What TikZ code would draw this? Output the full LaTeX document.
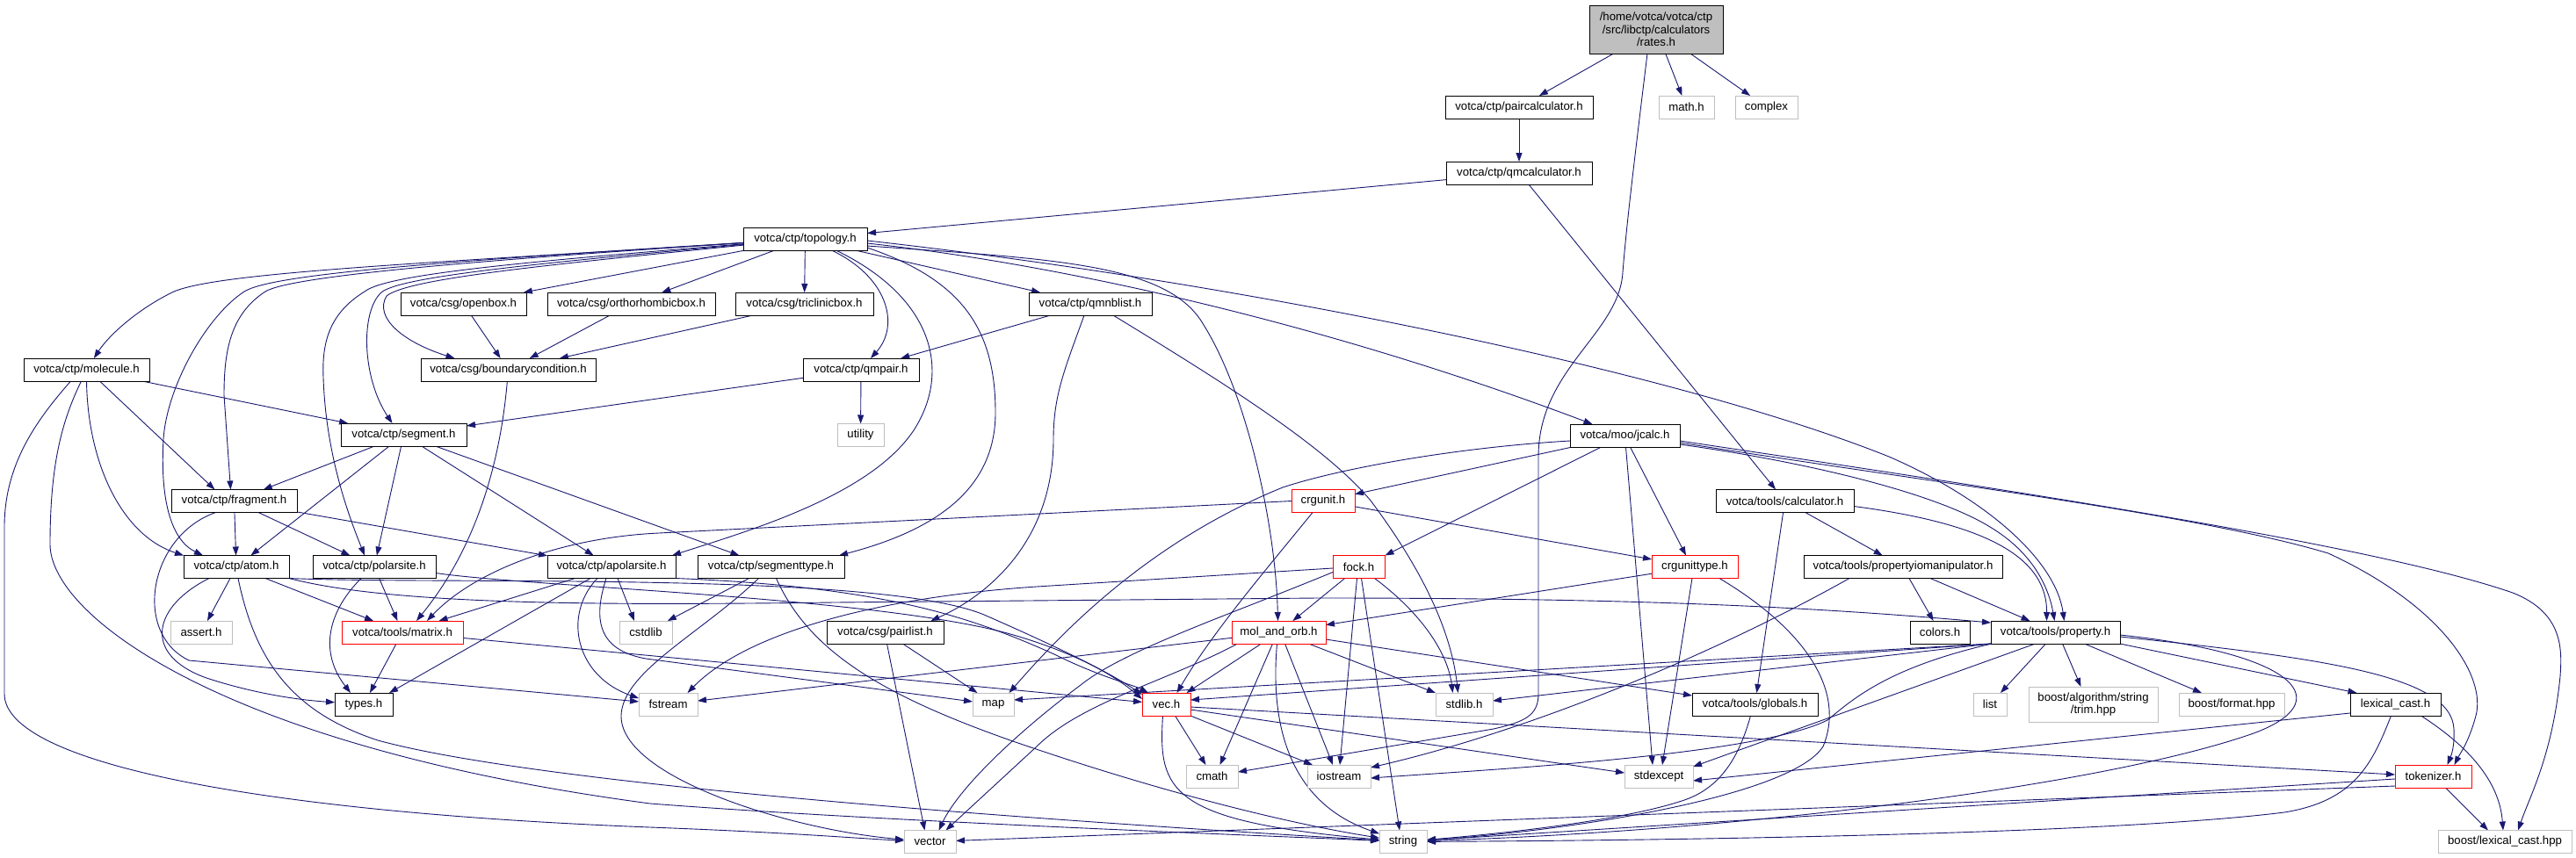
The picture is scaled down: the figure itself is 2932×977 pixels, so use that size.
\documentclass[tikz,border=0pt]{standalone}
\usepackage{fontspec}
\setmainfont{Liberation Sans}
\usetikzlibrary{arrows.meta}
\definecolor{edgec}{HTML}{191970}
\definecolor{extc}{HTML}{BFBFBF}
\pgfdeclarelayer{bglayer}
\pgfdeclarelayer{edgelayer}
\pgfsetlayers{bglayer,edgelayer,main}
\newcommand{\fsz}{\fontsize{13.2}{14.5}\selectfont}
\begin{document}
\begin{tikzpicture}[x=1pt,y=-1pt,
  box/.style={rectangle, inner sep=0pt, outer sep=0pt, line width=1pt, align=center, font=\fsz, minimum height=26pt, fill=white},
  nb/.style={box, draw=black},
  nx/.style={box, draw=extc},
  nr/.style={box, draw=red},
  edg/.style={draw=edgec, line width=0.9pt, -{Triangle[length=10pt,width=7pt]}}]
\useasboundingbox (0,0) rectangle (2932,977);
\begin{pgfonlayer}{bglayer}
\fill[white] (0,0) rectangle (2932,977);
\end{pgfonlayer}

% ---------- nodes ----------
\node[nb, fill=extc, minimum width=152, minimum height=55] (R) at (1885,33.5) {/home/votca/votca/ctp\\/src/libctp/calculators\\/rates.h};
\node[nb, minimum width=168] (PC) at (1729,122) {votca/ctp/paircalculator.h};
\node[nx, minimum width=63] (MH) at (1919.5,122) {math.h};
\node[nx, minimum width=71] (CX) at (2010.5,122) {complex};
\node[nb, minimum width=166] (QC) at (1729,197) {votca/ctp/qmcalculator.h};
\node[nb, minimum width=141] (TOP) at (916.5,272) {votca/ctp/topology.h};
\node[nb, minimum width=143] (OB) at (527.5,346) {votca/csg/openbox.h};
\node[nb, minimum width=191] (ORB) at (718.5,346) {votca/csg/orthorhombicbox.h};
\node[nb, minimum width=157] (TRI) at (915.5,346) {votca/csg/triclinicbox.h};
\node[nb, minimum width=140] (QNB) at (1241,346) {votca/ctp/qmnblist.h};
\node[nb, minimum width=143] (MOL) at (98.5,421) {votca/ctp/molecule.h};
\node[nb, minimum width=199] (BC) at (578.5,421) {votca/csg/boundarycondition.h};
\node[nb, minimum width=132] (QP) at (980,421) {votca/ctp/qmpair.h};
\node[nb, minimum width=143] (SEG) at (459.5,495) {votca/ctp/segment.h};
\node[nx, minimum width=53] (UT) at (979.5,495.5) {utility};
\node[nb, minimum width=125] (JC) at (1849.5,496) {votca/moo/jcalc.h};
\node[nb, minimum width=143] (FR) at (266.5,570.5) {votca/ctp/fragment.h};
\node[nr, minimum width=72] (CU) at (1506,570.5) {crgunit.h};
\node[nb, minimum width=157] (CALC) at (2031.5,570.5) {votca/tools/calculator.h};
\node[nb, minimum width=120] (AT) at (269,645.5) {votca/ctp/atom.h};
\node[nb, minimum width=140] (PS) at (426,645.5) {votca/ctp/polarsite.h};
\node[nb, minimum width=146] (APS) at (696,645.5) {votca/ctp/apolarsite.h};
\node[nb, minimum width=167] (ST) at (877.5,645.5) {votca/ctp/segmenttype.h};
\node[nr, minimum width=59] (FO) at (1546.5,645.5) {fock.h};
\node[nr, minimum width=98] (CUT) at (1929,645.5) {crgunittype.h};
\node[nb, minimum width=226] (PIO) at (2166,645.5) {votca/tools/propertyiomanipulator.h};
\node[nx, minimum width=70] (AS) at (229,720) {assert.h};
\node[nr, minimum width=138] (MX) at (458,720) {votca/tools/matrix.h};
\node[nx, minimum width=60] (CSL) at (735,720) {cstdlib};
\node[nb, minimum width=133] (PL) at (1007.5,720) {votca/csg/pairlist.h};
\node[nr, minimum width=107] (MO) at (1455.5,720) {mol\_and\_orb.h};
\node[nb, minimum width=68] (COL) at (2208,720) {colors.h};
\node[nb, minimum width=147] (PROP) at (2339.5,720) {votca/tools/property.h};
\node[nb, minimum width=66] (TY) at (414,802) {types.h};
\node[nx, minimum width=67] (FS) at (760.5,802) {fstream};
\node[nx, minimum width=47] (MAP) at (1130.5,802) {map};
\node[nr, minimum width=55] (VEC) at (1327.5,802) {vec.h};
\node[nx, minimum width=65] (SLH) at (1666.5,802) {stdlib.h};
\node[nb, minimum width=143] (GL) at (1997.5,802) {votca/tools/globals.h};
\node[nx, minimum width=38] (LI) at (2265,802) {list};
\node[nx, minimum width=147, minimum height=40] (TRIM) at (2382.5,802) {boost/algorithm/string\\/trim.hpp};
\node[nx, minimum width=120] (BF) at (2540,802) {boost/format.hpp};
\node[nb, minimum width=103] (LC) at (2726.5,802) {lexical\_cast.h};
\node[nx, minimum width=59] (CM) at (1379.5,884) {cmath};
\node[nx, minimum width=72] (IO) at (1524,884) {iostream};
\node[nx, minimum width=78] (SE) at (1888,884) {stdexcept};
\node[nr, minimum width=87] (TOK) at (2769.5,884) {tokenizer.h};
\node[nx, minimum width=59] (VE) at (1058.5,958.5) {vector};
\node[nx, minimum width=54] (STR) at (1597,958.5) {string};
\node[nx, minimum width=152] (BLC) at (2851,958.5) {boost/lexical\_cast.hpp};

% ---------- edges ----------
\begin{pgfonlayer}{edgelayer}
% rates.h
\draw[edg] (R) -- (PC);
\draw[edg] (R) -- (MH);
\draw[edg] (R) -- (CX);
\draw[edg] ([xshift=-10]R.south) .. controls (1858,200) and (1851,260) .. (1847,310) .. controls (1843,380) and (1751,420) .. (1751,520) -- (1751,790) .. controls (1751,815) and (1735,822) .. (1700,830) -- (CM);
\draw[edg] (PC) -- (QC);
\draw[edg] (QC) -- (TOP);
\draw[edg] ([xshift=11]QC.south) -- (CALC);
% topology.h
\draw[edg] (TOP) .. controls (480,300) and (250,310) .. (198,332) .. controls (160,350) and (125,380) .. (MOL);
\draw[edg] (TOP) .. controls (500,298) and (310,312) .. (278,332) .. controls (235,360) and (190,440) .. (186,500) .. controls (182,570) and (195,615) .. ([xshift=22]AT.north west);
\draw[edg] (TOP) .. controls (520,298) and (330,315) .. (302,332) .. controls (262,358) and (255,400) .. (255,450) -- ([xshift=-4]FR.north);
\draw[edg] (TOP) .. controls (600,298) and (440,312) .. (415,332) .. controls (378,355) and (366,385) .. (368,430) .. controls (371,520) and (398,590) .. ([xshift=-11]PS.north);
\draw[edg] (TOP) .. controls (610,300) and (455,315) .. (434,333) .. controls (410,355) and (412,430) .. ([xshift=-13]SEG.north);
\draw[edg] (TOP) .. controls (620,302) and (465,317) .. (440,337) .. controls (425,362) and (460,390) .. ([xshift=-61]BC.north);
\draw[edg] (TOP) -- (OB);
\draw[edg] (TOP) -- (ORB);
\draw[edg] (TOP) -- (TRI);
\draw[edg] (TOP) -- (QNB);
\draw[edg] ([xshift=30]TOP.south) .. controls (1010,315) and (1025,370) .. ([xshift=11]QP.north);
\draw[edg] ([xshift=35]TOP.south) .. controls (1065,340) and (1082,425) .. (1040,490) .. controls (990,565) and (850,605) .. ([xshift=-4]APS.north east);
\draw[edg] ([yshift=-10]TOP.east) .. controls (1100,320) and (1133,380) .. (1133,470) .. controls (1133,560) and (1060,605) .. ([xshift=-6]ST.north east);
\draw[edg] ([yshift=-8]TOP.east) .. controls (1200,295) and (1330,300) .. (1370,370) .. controls (1420,450) and (1452,600) .. ([xshift=-1]MO.north);
\draw[edg] ([yshift=-5]TOP.east) .. controls (1200,300) and (1500,365) .. ([xshift=-37]JC.north);
\draw[edg] ([yshift=-2]TOP.east) .. controls (1400,320) and (1900,420) .. (2150,520) .. controls (2265,570) and (2340,640) .. ([xshift=10]PROP.north);
% molecule.h
\draw[edg] ([xshift=-18]MOL.south) .. controls (40,480) and (5,530) .. (5,600) -- (5,790) .. controls (5,870) and (300,925) .. (740,942) .. controls (900,948) and (980,955) .. (VE);
\draw[edg] ([xshift=-6]MOL.south) .. controls (70,480) and (57,530) .. (57,620) .. controls (57,700) and (250,850) .. (740,915) .. controls (1000,935) and (1400,950) .. (STR);
\draw[edg] (MOL.south) .. controls (100,530) and (140,610) .. (AT.north west);
\draw[edg] ([xshift=15]MOL.south) -- ([xshift=-22]FR.north);
\draw[edg] (MOL) -- (SEG);
% csg boxes
\draw[edg] (OB) -- (BC);
\draw[edg] (ORB) -- (BC);
\draw[edg] (TRI) -- (BC);
\draw[edg] (BC) .. controls (570,520) and (545,620) .. ([xshift=16]MX.north);
% qmnblist / qmpair
\draw[edg] (QNB) -- (QP);
\draw[edg] ([xshift=-7]QNB.south) .. controls (1212,420) and (1199,450) .. (1199,500) .. controls (1199,620) and (1120,680) .. ([xshift=52]PL.north);
\draw[edg] ([xshift=26]QNB.south) .. controls (1400,440) and (1510,510) .. (1560,570) .. controls (1620,650) and (1652,720) .. ([xshift=-7]SLH.north);
\draw[edg] (QP) -- (SEG);
\draw[edg] (QP) -- (UT);
% segment.h
\draw[edg] (SEG) -- (FR);
\draw[edg] (SEG) -- (AT);
\draw[edg] (SEG) -- (PS);
\draw[edg] (SEG) -- (APS);
\draw[edg] (SEG) -- (ST);
% fragment.h
\draw[edg] (FR) -- (AT);
\draw[edg] (FR) -- (PS);
\draw[edg] (FR) -- (APS);
\draw[edg] ([xshift=-21]FR.south) .. controls (170,610) and (150,720) .. (215,752) -- (FS);
% atom.h
\draw[edg] (AT) -- (AS);
\draw[edg] ([xshift=-31]AT.south) .. controls (175,690) and (160,745) .. (235,772) .. controls (290,790) and (340,797) .. (TY);
\draw[edg] (AT) -- (MX);
\draw[edg] ([xshift=2]AT.south) .. controls (290,750) and (330,810) .. (430,843) .. controls (620,895) and (1200,935) .. (STR);
\draw[edg] (AT.south east) .. controls (500,666) and (1000,650) .. (1120,700) .. controls (1200,735) and (1262,765) .. ([yshift=-2]VEC.north west);
\draw[edg] (AT.south east) .. controls (450,690) and (700,689) .. (950,686) -- (1500,681) .. controls (1850,681) and (2050,690) .. ([yshift=-2]PROP.north west);
% polarsite.h
\draw[edg] (PS) -- (MX);
\draw[edg] ([xshift=-15]PS.south) .. controls (370,700) and (365,745) .. ([xshift=-15]TY.north);
\draw[edg] ([yshift=-7]PS.east) .. controls (600,668) and (1000,680) .. (1150,722) .. controls (1230,745) and (1272,772) .. ([yshift=-7]VEC.north west);
% apolarsite.h
\draw[edg] (APS) -- (MX);
\draw[edg] ([xshift=-24]APS.south) -- ([xshift=29]TY.north);
\draw[edg] ([xshift=-16]APS.south) .. controls (640,700) and (655,770) .. ([yshift=7]FS.west);
\draw[edg] ([xshift=-6]APS.south) .. controls (675,705) and (680,740) .. (735,750) -- (MAP);
\draw[edg] ([xshift=7]APS.south) -- ([xshift=-13]CSL.north);
\draw[edg] (APS.south east) .. controls (1000,668) and (1100,700) .. (1200,745) .. controls (1250,770) and (1290,780) .. ([xshift=7]VEC.north west);
% segmenttype.h
\draw[edg] (ST) -- (CSL);
\draw[edg] ([xshift=-14]ST.south) .. controls (800,720) and (708,765) .. (707,815) .. controls (706,885) and (900,945) .. (VE);
\draw[edg] ([xshift=6]ST.south) .. controls (920,740) and (1000,790) .. (1150,843) .. controls (1300,895) and (1450,935) .. (STR);
% crgunit.h
\draw[edg] (CU) -- (CUT);
\draw[edg] (CU.west) -- (750,607) .. controls (640,612) and (540,650) .. ([xshift=28]MX.north);
\draw[edg] ([xshift=-12]CU.south) .. controls (1440,650) and (1380,720) .. ([xshift=12]VEC.north);
% jcalc.h
\draw[edg] (JC) -- (CU);
\draw[edg] ([yshift=-6]JC.west) .. controls (1650,510) and (1520,535) .. (1460,555) .. controls (1300,620) and (1200,730) .. ([xshift=18]MAP.north);
\draw[edg] ([xshift=-27]JC.south) -- ([xshift=30]FO.north);
\draw[edg] ([xshift=1]JC.south) -- ([xshift=-7]SE.north);
\draw[edg] ([xshift=6]JC.south) -- ([xshift=-10]CUT.north);
\draw[edg] ([yshift=-6]JC.east) .. controls (2300,560) and (2700,620) .. (2860,675) .. controls (2918,698) and (2916,740) .. (2914,770) .. controls (2905,860) and (2880,905) .. ([xshift=15]BLC.north);
\draw[edg] ([yshift=-8]JC.east) .. controls (2200,550) and (2500,585) .. (2650,630) .. controls (2780,690) and (2830,770) .. (2818,815) .. controls (2810,845) and (2800,858) .. ([xshift=24]TOK.north);
\draw[edg] ([yshift=-10]JC.east) .. controls (2050,525) and (2200,560) .. (2265,600) .. controls (2315,630) and (2332,670) .. ([xshift=-1]PROP.north);
% calculator.h
\draw[edg] (CALC) -- (PIO);
\draw[edg] (CALC) -- (GL);
\draw[edg] ([yshift=-6]CALC.east) .. controls (2250,595) and (2330,630) .. ([xshift=-10]PROP.north);
% fock.h
\draw[edg] (FO) -- (MO);
\draw[edg] ([yshift=-1.5]FO.west) -- (1180,668) .. controls (1000,680) and (850,720) .. ([xshift=22]FS.north);
\draw[edg] ([yshift=-6]FO.west) .. controls (1400,700) and (1280,740) .. (1230,780) .. controls (1150,840) and (1090,900) .. ([xshift=10]VE.north);
\draw[edg] ([xshift=-2]FO.south) -- ([xshift=1]IO.north);
\draw[edg] ([xshift=3]FO.south) -- ([xshift=-4]STR.north);
\draw[edg] ([xshift=18]FO.south) .. controls (1620,700) and (1648,745) .. ([xshift=-13]SLH.north);
% crgunittype.h
\draw[edg] (CUT) -- (MO);
\draw[edg] ([xshift=-3]CUT.south) -- ([xshift=4]SE.north);
\draw[edg] ([xshift=28]CUT.south) .. controls (2060,720) and (2100,790) .. (2075,850) .. controls (2040,905) and (1800,945) .. (STR);
% mol_and_orb.h
\draw[edg] (MO) -- (FS);
\draw[edg] ([xshift=-47]MO.south) .. controls (1330,775) and (1230,800) .. (1180,850) -- ([xshift=18]VE.north);
\draw[edg] ([xshift=-20]MO.south) -- ([xshift=23]VEC.north);
\draw[edg] ([xshift=-7]MO.south) -- ([xshift=9]CM.north);
\draw[edg] ([xshift=-2]MO.south) .. controls (1445,830) and (1470,915) .. (STR);
\draw[edg] ([xshift=7]MO.south) -- ([xshift=-7]IO.north);
\draw[edg] ([xshift=34]MO.south) -- (SLH.north west);
\draw[edg] ([yshift=-8]MO.east) -- ([yshift=10]GL.west);
% propertyiomanipulator.h
\draw[edg] ([xshift=7]PIO.south) -- (COL);
\draw[edg] ([xshift=31]PIO.south) -- ([xshift=-29]PROP.north);
\draw[edg] ([xshift=-61]PIO.south) .. controls (1960,740) and (1750,830) .. ([yshift=10]IO.east);
% property.h
\draw[edg] ([xshift=-11]PROP.south) -- (LI);
\draw[edg] ([xshift=8]PROP.south) -- ([xshift=-14]TRIM.north);
\draw[edg] ([xshift=33]PROP.south) -- ([xshift=-34]BF.north);
\draw[edg] (PROP.south east) -- ([xshift=-44]LC.north);
\draw[edg] ([yshift=-5]PROP.east) .. controls (2650,750) and (2790,770) .. (2793,830) .. controls (2794,850) and (2790,860) .. ([xshift=16]TOK.north);
\draw[edg] ([yshift=-3]PROP.east) .. controls (2620,745) and (2660,800) .. (2565,835) .. controls (2400,893) and (2000,945) .. (STR);
\draw[edg] ([xshift=1]PROP.south west) .. controls (2150,760) and (2110,795) .. (2080,820) .. controls (2000,860) and (1700,876) .. ([yshift=-2]IO.east);
\draw[edg] ([xshift=-23]PROP.south) -- ([yshift=11]SE.east);
\draw[edg] (PROP.south west) -- ([yshift=4]SLH.east);
\draw[edg] (PROP.south west) -- ([yshift=5]VEC.east);
\draw[edg] (PROP.south west) -- ([yshift=5]MAP.east);
% vec.h
\draw[edg] ([xshift=10]VEC.south) -- ([xshift=-7]CM.north);
\draw[edg] (VEC.south east) -- ([xshift=-30]IO.north);
\draw[edg] ([yshift=-6]VEC.east) -- ([yshift=4]SE.west);
\draw[edg] ([yshift=-3]VEC.east) -- ([yshift=2]TOK.west);
\draw[edg] ([xshift=-4]VEC.south) .. controls (1318,900) and (1330,935) .. (STR);
% matrix.h
\draw[edg] (MX) -- (TY);
\draw[edg] (MX) -- (VEC);
% lexical_cast.h
\draw[edg] ([yshift=-10]LC.west) -- ([yshift=-5]SE.east);
\draw[edg] ([xshift=-5]LC.south) .. controls (2700,870) and (2680,912) .. (2600,925) .. controls (2400,950) and (1900,957) .. (STR);
\draw[edg] ([xshift=29]LC.south) .. controls (2810,850) and (2845,890) .. ([xshift=-2]BLC.north);
% tokenizer.h
\draw[edg] ([xshift=14]TOK.south) -- ([xshift=-19]BLC.north);
\draw[edg] ([yshift=-3]TOK.west) -- (STR);
\draw[edg] ([yshift=-11]TOK.west) -- (VE);
% globals.h
\draw[edg] ([xshift=-5]GL.south) .. controls (1980,860) and (1960,895) .. (1920,910) .. controls (1850,935) and (1700,950) .. (STR);
% pairlist.h
\draw[edg] ([xshift=20]PL.south) -- ([xshift=-18]MAP.north);
\draw[edg] ([xshift=2]PL.south) -- ([xshift=-6]VE.north);
\end{pgfonlayer}
\end{tikzpicture}
\end{document}
